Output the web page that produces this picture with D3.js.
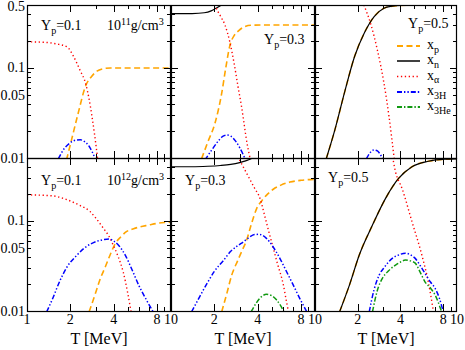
<!DOCTYPE html>
<html><head><meta charset="utf-8">
<script src="https://cdn.jsdelivr.net/npm/d3@7"></script>
<style>
body{margin:0;background:#fff}
svg{display:block}
</style>
</head><body><svg id="c" width="465" height="350"></svg>
<script>
// ---- axis ticks / labels ----
const xMinorTicks = [2,3,5,6,7,9];
const xMajorTicks = [2,4,8];
const xLabelsFirst = [1,2,4,8,10];
const xLabelsOther = [2,4,8,10];
const yMinorTicks = [0.02,0.03,0.04,0.05,0.06,0.07,0.08,0.09,0.2,0.3,0.4];
const yMajorTicks = [0.1];
const yLabelsTop = [0.01,0.05,0.1,0.5];
const yLabelsBottom = [0.01,0.05,0.1];
const xDomain = [1,10];
const yDomain = [0.01,0.5];
const xTitle = "T [MeV]";

// ---- Panel 1: 10^11 g/cm^3, Yp=0.1 ----
const p1_xp_T  = [1.88,2.05,2.25,2.57,2.8,3.06,3.4,3.8,10];
const p1_xp    = [0.0095,0.0165,0.03,0.0647,0.08,0.092,0.098,0.1,0.1];
const p1_xa_T  = [1,1.3,1.6,1.9,2.1,2.33,2.57,2.7,2.83,2.95,3.1];
const p1_xa    = [0.195,0.193,0.185,0.171,0.135,0.095,0.0647,0.045,0.0285,0.018,0.0095];
const p1_x3H_T = [1.65,1.8,2.0,2.2,2.35,2.5,2.7,2.85,3.0];
const p1_x3H   = [0.0098,0.0125,0.0148,0.0158,0.0159,0.0153,0.0135,0.0115,0.0095];

// ---- Panel 2: 10^11 g/cm^3, Yp=0.3 ----
const p2_xp_T  = [1.63,1.8,2.02,2.25,2.4,2.57,2.75,2.93,3.2,3.6,4.5,10];
const p2_xp    = [0.0098,0.015,0.0243,0.0524,0.1,0.18,0.23,0.256,0.285,0.298,0.3,0.3];
const p2_xn_T  = [1,1.4,1.7,1.9,2.05,2.2,2.3];
const p2_xn    = [0.4,0.402,0.41,0.43,0.46,0.49,0.52];
const p2_xa_T  = [2.0,2.05,2.2,2.37,2.57,2.75,2.92,3.1,3.37,3.56];
const p2_xa    = [0.56,0.48,0.38,0.3,0.19,0.11,0.062,0.036,0.0147,0.0095];
const p2_x3H_T = [1.72,1.9,2.1,2.3,2.45,2.6,2.8,3.0,3.3];
const p2_x3H   = [0.0095,0.012,0.015,0.0175,0.018,0.0175,0.0155,0.013,0.0095];

// ---- Panel 3: 10^11 g/cm^3, Yp=0.5 ----
const p3_xpn_T = [1.2,1.38,1.62,1.9,2.22,2.61,3.06,3.5,4,5,10];
const p3_xpn   = [0.0098,0.0205,0.0546,0.134,0.243,0.372,0.46,0.485,0.495,0.5,0.5];
const p3_xa_T  = [2.1,2.22,2.48,2.75,3.06,3.32,3.62];
const p3_xa    = [0.6,0.49,0.3,0.158,0.0676,0.029,0.0095];
const p3_x3H_T = [2.3,2.45,2.6,2.75,2.9,3.0];
const p3_x3H   = [0.0098,0.0115,0.0123,0.012,0.0108,0.0098];

// ---- Panel 4: 10^12 g/cm^3, Yp=0.1 ----
const p4_xp_T  = [2.7,3.0,3.2,3.5,3.8,4.1,4.5,4.9,5.5,6.1,7,8,9,10];
const p4_xp    = [0.0098,0.016,0.022,0.031,0.043,0.056,0.067,0.076,0.082,0.086,0.09,0.094,0.096,0.097];
const p4_xa_T  = [1,1.5,1.9,2.3,2.74,3.0,3.39,3.7,3.97,4.3,4.66,5.0,5.3];
const p4_xa    = [0.195,0.19,0.172,0.15,0.127,0.108,0.083,0.068,0.054,0.04,0.027,0.016,0.0095];
const p4_x3H_T = [1.37,1.5,1.7,1.9,2.2,2.5,2.8,3.1,3.4,3.7,4.0,4.35,4.8,5.4,6.0,6.8,7.6];
const p4_x3H   = [0.0098,0.0135,0.022,0.031,0.041,0.05,0.056,0.06,0.062,0.063,0.06,0.053,0.042,0.028,0.019,0.013,0.0095];

// ---- Panel 5: 10^12 g/cm^3, Yp=0.3 ----
const p5_xp_T  = [2.25,2.45,2.64,2.9,3.1,3.36,3.6,3.94,4.3,4.7,5.13,5.8,6.7,8,10];
const p5_xp    = [0.0098,0.016,0.025,0.036,0.046,0.062,0.09,0.138,0.17,0.2,0.225,0.25,0.27,0.283,0.29];
const p5_xn_T  = [1,1.4,1.8,2.2,2.6,3.0,3.3,3.6,3.8];
const p5_xn    = [0.4,0.4,0.405,0.413,0.425,0.445,0.465,0.49,0.52];
const p5_xa_T  = [2.9,3.17,3.5,3.8,4.15,4.5,4.8,5.13,5.5,6.03,6.3,6.55];
const p5_xa    = [0.52,0.4,0.297,0.232,0.178,0.11,0.074,0.05,0.033,0.0195,0.0134,0.0097];
const p5_x3H_T = [1.39,1.6,1.8,2.0,2.3,2.6,2.9,3.2,3.5,3.8,4.1,4.6,5.1,5.7,6.3,7.0,7.8,8.8];
const p5_x3H   = [0.0098,0.0149,0.0209,0.0275,0.036,0.046,0.053,0.059,0.066,0.0705,0.071,0.064,0.052,0.0385,0.028,0.02,0.014,0.0097];
const p5_x3He_T= [3.6,3.9,4.2,4.6,5.0,5.4,5.8,6.1];
const p5_x3He  = [0.0098,0.0122,0.0142,0.0153,0.0148,0.0133,0.0113,0.0097];

// ---- Panel 6: 10^12 g/cm^3, Yp=0.5 ----
const p6_xpn_T = [1.49,1.75,2.05,2.54,3.14,3.89,4.82,6.28,8.2,10];
const p6_xpn   = [0.0098,0.0195,0.0419,0.09,0.178,0.298,0.4,0.46,0.485,0.49];
const p6_xa_T  = [3.4,3.49,3.69,4.1,4.82,5.65,6.28,6.85];
const p6_xa    = [0.62,0.54,0.35,0.23,0.098,0.042,0.021,0.0095];
const p6_x3H_T = [2.41,2.6,2.83,3.1,3.5,3.9,4.33,4.7,5.08,5.5,5.95,6.5,7,7.5,8.0];
const p6_x3H   = [0.0098,0.017,0.025,0.031,0.0384,0.042,0.0439,0.042,0.0384,0.032,0.0262,0.021,0.0179,0.014,0.0098];
const p6_x3He_T= [2.54,2.75,2.98,3.3,3.69,4.0,4.33,4.7,5.08,5.5,5.95,6.5,7,7.8];
const p6_x3He  = [0.0098,0.017,0.023,0.028,0.0324,0.035,0.0368,0.036,0.034,0.027,0.0211,0.018,0.0151,0.0098];

// ---- labels ----
const yp1 = "0.1", yp3 = "0.3", yp5 = "0.5";
const dens11 = "11", dens12 = "12";
const legendNames = ["p","n","α","3H","3He"];

// ---- layout ----
const colEdges = [27,171,315,457];
const rowEdges = [5,158,311];
const FONT = "Liberation Serif";

const styles = {
  xp:  {stroke:"#FFA500", w:1.6, dash:"6,3.5"},
  xn:  {stroke:"#000000", w:1.2, dash:null},
  xa:  {stroke:"#FF0000", w:1.4, dash:"1.3,2.6"},
  x3H: {stroke:"#0000FF", w:1.5, dash:"5,2,1.4,2,1.4,2"},
  x3He:{stroke:"#119911", w:1.5, dash:"5,2,1.4,2"}
};

const zip = (T,v) => T.map((t,i)=>({T:t,v:v[i]}));
const panels = [
  {r:0,c:0, series:[["xp",p1_xp_T,p1_xp],["xa",p1_xa_T,p1_xa],["x3H",p1_x3H_T,p1_x3H]]},
  {r:0,c:1, series:[["xp",p2_xp_T,p2_xp],["xn",p2_xn_T,p2_xn],["xa",p2_xa_T,p2_xa],["x3H",p2_x3H_T,p2_x3H]]},
  {r:0,c:2, series:[["xp",p3_xpn_T,p3_xpn],["xn",p3_xpn_T,p3_xpn],["xa",p3_xa_T,p3_xa],["x3H",p3_x3H_T,p3_x3H]]},
  {r:1,c:0, series:[["xp",p4_xp_T,p4_xp],["xa",p4_xa_T,p4_xa],["x3H",p4_x3H_T,p4_x3H]]},
  {r:1,c:1, series:[["xp",p5_xp_T,p5_xp],["xn",p5_xn_T,p5_xn],["xa",p5_xa_T,p5_xa],["x3H",p5_x3H_T,p5_x3H],["x3He",p5_x3He_T,p5_x3He]]},
  {r:1,c:2, series:[["xp",p6_xpn_T,p6_xpn],["xn",p6_xpn_T,p6_xpn],["xa",p6_xa_T,p6_xa],["x3H",p6_x3H_T,p6_x3H],["x3He",p6_x3He_T,p6_x3He]]}
];

const svg = d3.select("#c");
const defs = svg.append("defs");

function txt(g, x, y, size, anchor){
  return g.append("text").attr("x",x).attr("y",y).attr("font-size",size)
    .style("font-family",FONT).attr("fill","#000").attr("text-anchor",anchor||"start");
}
function richText(g, x, y, parts, size, anchor){
  const t = txt(g,x,y,size,anchor);
  let shift = 0;
  parts.forEach(p=>{
    const off = p.sub ? 3.5 : (p.sup ? -5.5 : 0);
    t.append("tspan").attr("dy", off - shift)
      .attr("font-size", (p.sub||p.sup) ? size*0.72 : size).text(p.t);
    shift = off;
  });
  return t;
}

panels.forEach((p,i)=>{
  const x0 = colEdges[p.c], x1 = colEdges[p.c+1];
  const y0 = rowEdges[p.r], y1 = rowEdges[p.r+1];
  const x = d3.scaleLog().domain(xDomain).range([x0,x1]);
  const y = d3.scaleLog().domain(yDomain).range([y1,y0]);
  const g = svg.append("g");
  defs.append("clipPath").attr("id","clip"+i).append("rect")
    .attr("x",x0).attr("y",y0).attr("width",x1-x0).attr("height",y1-y0);

  // curves
  const line = d3.line().x(d=>x(d.T)).y(d=>y(d.v)).curve(d3.curveMonotoneX);
  const cg = g.append("g").attr("clip-path","url(#clip"+i+")");
  p.series.forEach(([k,T,v])=>{
    const s = styles[k];
    cg.append("path").datum(zip(T,v)).attr("d",line)
      .attr("fill","none").attr("stroke",s.stroke).attr("stroke-width",s.w)
      .attr("stroke-dasharray",s.dash);
  });

  // ticks (inward, on all four sides)
  const tk = g.append("g").attr("stroke","#000").attr("stroke-width",1);
  xMinorTicks.concat(xMajorTicks).forEach(t=>{
    const L = xMajorTicks.includes(t) ? 7 : 4;
    const px = Math.round(x(t))+0.5;
    tk.append("line").attr("x1",px).attr("x2",px).attr("y1",y1).attr("y2",y1-L);
    tk.append("line").attr("x1",px).attr("x2",px).attr("y1",y0).attr("y2",y0+L);
  });
  yMinorTicks.concat(yMajorTicks).forEach(t=>{
    const L = yMajorTicks.includes(t) ? 7 : 4;
    const py = Math.round(y(t))+0.5;
    tk.append("line").attr("x1",x0).attr("x2",x0+L).attr("y1",py).attr("y2",py);
    tk.append("line").attr("x1",x1).attr("x2",x1-L).attr("y1",py).attr("y2",py);
  });
  g.append("rect").attr("x",x0+0.5).attr("y",y0+0.5).attr("width",x1-x0-1).attr("height",y1-y0)
    .attr("fill","none").attr("stroke","#000").attr("stroke-width",1.2);

  // tick labels
  if (p.c===0){
    const labs = p.r===0 ? yLabelsTop : yLabelsBottom;
    labs.forEach(t=>{
      const yy = Math.max(y(t)+4.5, 10.5);
      txt(g, x0-2, yy, 14, "end").text(t);
    });
  }
  if (p.r===1){
    const labs = p.c===0 ? xLabelsFirst : xLabelsOther;
    labs.forEach(t=>{
      txt(g, x(t), y1+13, 14, "middle").text(t);
    });
    txt(g, (x0+x1)/2, 344, 16, "middle").text(xTitle);
  }
});

// ---- annotations ----
const ann = svg.append("g");
richText(ann, 41, 30, [{t:"Y"},{t:"p",sub:true},{t:"="+yp1}], 14);
richText(ann, 107, 30, [{t:"10"},{t:dens11,sup:true},{t:"g/cm"},{t:"3",sup:true}], 14);
richText(ann, 264, 44, [{t:"Y"},{t:"p",sub:true},{t:"="+yp3}], 14);
richText(ann, 408, 28, [{t:"Y"},{t:"p",sub:true},{t:"="+yp5}], 14);
richText(ann, 41, 185, [{t:"Y"},{t:"p",sub:true},{t:"="+yp1}], 14);
richText(ann, 107, 185, [{t:"10"},{t:dens12,sup:true},{t:"g/cm"},{t:"3",sup:true}], 14);
richText(ann, 185, 185, [{t:"Y"},{t:"p",sub:true},{t:"="+yp3}], 14);
richText(ann, 328, 182, [{t:"Y"},{t:"p",sub:true},{t:"="+yp5}], 14);

// ---- legend ----
const legKeys = ["xp","xn","xa","x3H","x3He"];
const legY = [46,61,76.5,92,107];
legKeys.forEach((k,i)=>{
  const s = styles[k];
  ann.append("line").attr("x1",397).attr("x2",420).attr("y1",legY[i]).attr("y2",legY[i])
    .attr("stroke",s.stroke).attr("stroke-width",s.w+0.3).attr("stroke-dasharray",s.dash);
  richText(ann, 427, legY[i]+3, [{t:"x"},{t:legendNames[i],sub:true}], 14);
});
</script></body></html>
